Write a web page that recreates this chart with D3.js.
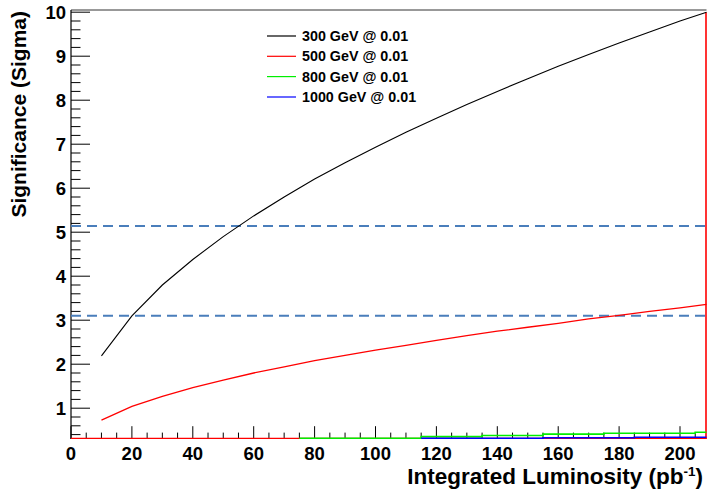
<!DOCTYPE html>
<html>
<head>
<meta charset="utf-8">
<script src="https://cdn.jsdelivr.net/npm/d3@7"></script>
<style>
  html, body { margin: 0; padding: 0; background: #fff; }
  svg { display: block; }
  text { font-family: "Liberation Sans", Arial, Helvetica, sans-serif; font-weight: bold; fill: #000; }
</style>
</head>
<body>
<svg id="chart" width="707" height="490"></svg>
<script>
// Integrated luminosity (pb^-1) at which significance was evaluated
const lumi = [10, 20, 30, 40, 50, 60, 70, 80, 90, 100, 110, 120, 130, 140, 150, 160, 170, 180, 190, 200, 208.7];

// Significance curves per mass point
const sig300 = [2.19, 3.10, 3.80, 4.38, 4.90, 5.37, 5.80, 6.21, 6.58, 6.93, 7.27, 7.59, 7.90, 8.20, 8.49, 8.77, 9.04, 9.30, 9.55, 9.80, 10.0];
const sig500 = [0.73, 1.04, 1.27, 1.47, 1.64, 1.80, 1.94, 2.08, 2.20, 2.32, 2.43, 2.54, 2.65, 2.75, 2.84, 2.93, 3.03, 3.11, 3.20, 3.28, 3.36];

// Low-significance histograms (bin edges and contents), drawn as steps
const edges800 = [75, 85, 105, 115, 135, 155, 175, 205, 208.7];
const sig800   = [0.25, 0.28, 0.31, 0.355, 0.38, 0.41, 0.43, 0.455];
const edges1000 = [115, 155, 185, 208.7];
const sig1000   = [0.28, 0.33, 0.34];

// Reference significance levels
const refLevels = [5.14, 3.1];

const legendLabels = ["300 GeV @ 0.01", "500 GeV @ 0.01", "800 GeV @ 0.01", "1000 GeV @ 0.01"];
const seriesColors = ["#000000", "#ff0000", "#00ee00", "#0000ff"];

const xTicks = [0, 20, 40, 60, 80, 100, 120, 140, 160, 180, 200];
const yTicks = [1, 2, 3, 4, 5, 6, 7, 8, 9, 10];

const svg = d3.select("#chart");
const frame = { left: 71, right: 706.5, top: 10, bottom: 439 };

const x = d3.scaleLinear().domain([0, 208.7]).range([frame.left, frame.right]);
const y = d3.scaleLinear().domain([0.3, 10.05]).range([frame.bottom, frame.top]);

svg.append("defs").append("clipPath").attr("id", "plotclip")
  .append("rect")
  .attr("x", frame.left).attr("y", frame.top - 1)
  .attr("width", frame.right - frame.left + 1)
  .attr("height", frame.bottom - frame.top + 1);

// Frame
svg.append("line").attr("x1", frame.left).attr("x2", frame.right)
  .attr("y1", frame.top).attr("y2", frame.top)
  .attr("stroke", "#333").attr("stroke-width", 1);

// Y axis with ticks pointing into the frame
const yMinor = d3.range(0.4, 10.0, 0.2).filter(v => Math.abs(v - Math.round(v)) > 1e-6);
const yAxis = svg.append("g").attr("transform", `translate(${frame.left},0)`);
yAxis.append("line").attr("x1", 0).attr("x2", 0).attr("y1", frame.top).attr("y2", frame.bottom)
  .attr("stroke", "#000").attr("stroke-width", 1.2);
yAxis.selectAll("line.minor").data(yMinor).join("line").attr("class", "minor")
  .attr("x1", 0).attr("x2", 9.5)
  .attr("y1", d => y(d)).attr("y2", d => y(d))
  .attr("stroke", "#000").attr("stroke-width", 1);
yAxis.selectAll("line.major").data(yTicks).join("line").attr("class", "major")
  .attr("x1", 0).attr("x2", 19)
  .attr("y1", d => y(d)).attr("y2", d => y(d))
  .attr("stroke", "#000").attr("stroke-width", 1);
yAxis.selectAll("text").data(yTicks).join("text")
  .attr("x", -5).attr("y", d => y(d)).attr("dy", "0.36em")
  .attr("text-anchor", "end").attr("font-size", 18.5)
  .text(d => d);

// X axis with ticks pointing into the frame
const xMinor = d3.range(5, 208, 5).filter(v => v % 20 !== 0);
const xAxis = svg.append("g");
xAxis.selectAll("line.minor").data(xMinor).join("line").attr("class", "minor")
  .attr("x1", d => x(d)).attr("x2", d => x(d))
  .attr("y1", frame.bottom).attr("y2", frame.bottom - 6.4)
  .attr("stroke", "#000").attr("stroke-width", 1);
xAxis.selectAll("line.major").data(xTicks).join("line").attr("class", "major")
  .attr("x1", d => x(d)).attr("x2", d => x(d))
  .attr("y1", frame.bottom).attr("y2", frame.bottom - 12.8)
  .attr("stroke", "#000").attr("stroke-width", 1);
xAxis.selectAll("text").data(xTicks).join("text")
  .attr("x", d => x(d)).attr("y", frame.bottom + 21)
  .attr("text-anchor", "middle").attr("font-size", 18.5)
  .text(d => d);

// Axis titles
svg.append("text")
  .attr("transform", `translate(26,${frame.top + 1}) rotate(-90)`)
  .attr("text-anchor", "end").attr("font-size", 21)
  .text("Significance (Sigma)");

const xt = svg.append("text")
  .attr("x", 703).attr("y", 484)
  .attr("text-anchor", "end").attr("font-size", 22.5);
xt.append("tspan").text("Integrated Luminosity (pb");
xt.append("tspan").attr("font-size", 13.5).attr("dy", -8).text("-1");
xt.append("tspan").attr("dy", 8).text(")");

const plot = svg.append("g").attr("clip-path", "url(#plotclip)");

// Reference levels
plot.selectAll("line.ref").data(refLevels).join("line").attr("class", "ref")
  .attr("x1", frame.left).attr("x2", frame.right + 2)
  .attr("y1", d => y(d)).attr("y2", d => y(d))
  .attr("stroke", "#4a7ebb").attr("stroke-width", 2)
  .attr("stroke-dasharray", "10,6");

// Red baseline and right edge of the 500 GeV histogram
plot.append("line").attr("x1", frame.left).attr("x2", frame.right)
  .attr("y1", frame.bottom - 0.5).attr("y2", frame.bottom - 0.5)
  .attr("stroke", "#ff0000").attr("stroke-width", 1.6);
plot.append("line").attr("x1", frame.right - 0.5).attr("x2", frame.right - 0.5)
  .attr("y1", y(10.0)).attr("y2", frame.bottom)
  .attr("stroke", "#ff0000").attr("stroke-width", 1.6);

// Step histograms, contents below the axis minimum sit on the frame bottom
function stepPoints(edges, vals) {
  const pts = [];
  vals.forEach((v, i) => {
    const vv = Math.max(v, 0.3);
    pts.push([edges[i], vv]);
    pts.push([edges[i + 1], vv]);
  });
  return pts;
}
const stepLine = d3.line()
  .x(d => x(d[0]))
  .y(d => Math.min(y(d[1]), frame.bottom - 0.8));

plot.append("path").datum(stepPoints(edges800, sig800))
  .attr("d", stepLine).attr("fill", "none")
  .attr("stroke", seriesColors[2]).attr("stroke-width", 1.6);
plot.append("path").datum(stepPoints(edges1000, sig1000))
  .attr("d", stepLine).attr("fill", "none")
  .attr("stroke", seriesColors[3]).attr("stroke-width", 1.6);

// Significance curves
const curve = d3.line().x((d, i) => x(lumi[i])).y(d => y(d));
plot.append("path").datum(sig500).attr("d", curve).attr("fill", "none")
  .attr("stroke", seriesColors[1]).attr("stroke-width", 1.3);
plot.append("path").datum(sig300).attr("d", curve).attr("fill", "none")
  .attr("stroke", seriesColors[0]).attr("stroke-width", 1.1);

// Legend
const legendY = [36, 56.3, 76.6, 97];
const legend = svg.append("g");
legend.selectAll("line").data(legendLabels).join("line")
  .attr("x1", 267).attr("x2", 296)
  .attr("y1", (d, i) => legendY[i]).attr("y2", (d, i) => legendY[i])
  .attr("stroke", (d, i) => seriesColors[i]).attr("stroke-width", 1.2);
legend.selectAll("text").data(legendLabels).join("text")
  .attr("x", 302).attr("y", (d, i) => legendY[i]).attr("dy", "0.36em")
  .attr("font-size", 14.3)
  .text(d => d);
</script>
</body>
</html>
